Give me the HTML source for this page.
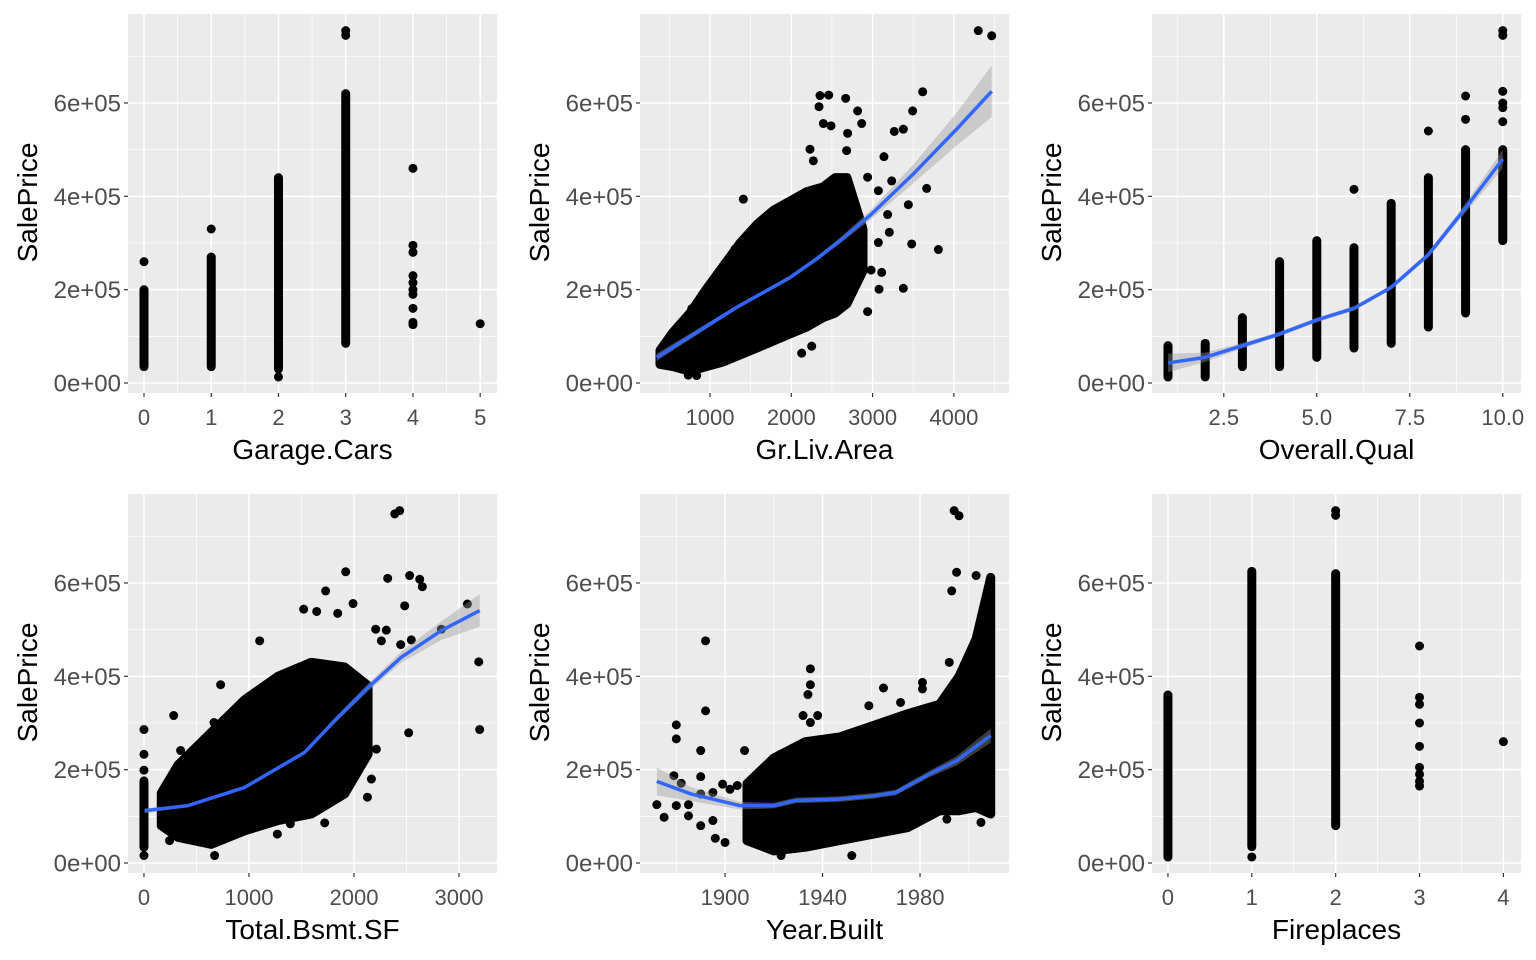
<!DOCTYPE html>
<html><head><meta charset="utf-8"><style>
html,body{margin:0;padding:0;background:#fff;}
svg{display:block;font-family:"Liberation Sans",Arial,sans-serif;}
</style></head><body>
<svg id="chart" width="1536" height="960" viewBox="0 0 1536 960"></svg>
<script>
// ---------- DATA (prices in thousands) ----------
const yTicks = [0, 200, 400, 600];
const yTickLabels = ["0e+00", "2e+05", "4e+05", "6e+05"];

// Panel 1: Garage.Cars
const garageCats = [0, 1, 2, 3];
const garageLo = [35, 35, 30, 85];
const garageHi = [200, 270, 440, 620];
const garageExtraX = [0, 1, 2, 3, 3, 4, 4, 4, 4, 4, 4, 4, 4, 4, 4, 5];
const garageExtraY = [260, 330, 13, 745, 755, 125, 130, 160, 190, 200, 215, 230, 280, 295, 460, 127];

// Panel 2: Gr.Liv.Area
const glaCoreX = [385, 550, 754, 950, 1160, 1370, 1578, 1780, 1984, 2190, 2390, 2540, 2685, 2882];
const glaCoreLo = [40, 35, 25, 35, 45, 60, 75, 90, 105, 120, 140, 150, 170, 240];
const glaCoreHi = [70, 110, 150, 200, 250, 300, 340, 370, 390, 410, 420, 440, 440, 330];
const glaOutX = [1410,1020,1308,775,4300,4465,3616,3493,3267,3378,3140,3665,3440,3185,3206,3481,3809,3071,2981,3112,3079,3378,2939,2353,2460,2341,2669,2816,2866,2394,2488,2693,2230,2271,2681,2128,2251,836,733,3235,3071,2939];
const glaOutY = [394,205,287,159,755,744,624,583,539,544,485,417,382,361,323,298,286,301,242,237,201,203,153,616,617,592,610,583,556,556,551,535,501,476,498,64,79,16,17,433,412,441];
const glaFitX = [344, 1328, 1984, 2312, 2599, 2968, 3501, 4034, 4465];
const glaFitY = [55, 162, 226, 266, 305, 359, 448, 544, 625];
const glaFitSe = [8, 4, 4, 5, 6, 10, 20, 35, 55];

// Panel 3: Overall.Qual
const qualCats = [1, 2, 3, 4, 5, 6, 7, 8, 9, 10];
const qualLo = [13, 13, 35, 35, 55, 75, 85, 120, 150, 305];
const qualHi = [80, 85, 140, 260, 305, 290, 385, 440, 500, 500];
const qualExtraX = [6, 8, 9, 9, 10, 10, 10, 10, 10, 10];
const qualExtraY = [415, 540, 565, 615, 560, 590, 625, 745, 755, 600];
const qualFitX = [1, 2, 3, 4, 5, 6, 7, 8, 9, 10];
const qualFitY = [43, 55, 80, 105, 135, 160, 205, 275, 375, 480];
const qualFitSe = [20, 10, 6, 5, 5, 5, 5, 6, 10, 20];

// Panel 4: Total.Bsmt.SF
const bsmtStripLo = [34];
const bsmtStripHi = [176];
const bsmtCoreX = [165, 324, 641, 959, 1276, 1594, 1911, 2134];
const bsmtCoreLo = [80, 55, 40, 69, 91, 105, 148, 233];
const bsmtCoreHi = [150, 210, 280, 350, 400, 430, 420, 380];
const bsmtOutX = [0,0,0,0,2388,2435,1921,1730,1521,1645,1845,1991,2321,2530,2626,2651,2483,1102,730,283,349,667,2207,2308,2546,3080,3188,3197,2521,2832,2445,2261,2213,2166,2128,1721,1394,1270,673,244];
const bsmtOutY = [16,286,233,199,748,755,624,583,544,539,535,556,610,616,608,592,551,476,382,316,241,301,501,499,478,555,431,286,279,501,468,476,244,180,141,86,84,62,16,48];
const bsmtFitX = [6, 419, 959, 1530, 1816, 2134, 2451, 2832, 3197];
const bsmtFitY = [112, 123, 162, 237, 305, 376, 441, 498, 541];
const bsmtFitSe = [5, 3, 3, 4, 6, 8, 12, 20, 35];

// Panel 5: Year.Built
const yearCoreX = [1909, 1920, 1933, 1947, 1961, 1975, 1988, 1996, 2003, 2009];
const yearCoreLo = [48, 26, 34, 48, 62, 76, 112, 112, 119, 105];
const yearCoreHi = [170, 225, 260, 270, 295, 320, 340, 400, 480, 612];
const yearOutX = [1872,1875,1880,1880,1879,1882,1880,1885,1885,1890,1890,1890,1890,1892,1892,1895,1895,1896,1900,1899,1902,1905,1908,1935,1935,1934,1932,1935,1938,1923,1952,1965,1959,1972,1981,1981,1992,1995,1994,1996,1993,2003,2009,2005,1991];
const yearOutY = [125,98,296,266,187,171,123,125,101,241,185,148,80,476,326,151,91,53,44,169,158,166,241,416,382,361,316,301,316,16,16,375,337,344,387,373,430,623,755,744,583,616,612,87,94];
const yearFitX = [1872, 1886, 1906, 1920, 1929, 1947, 1961, 1970, 1984, 1995, 2009];
const yearFitY = [175, 148, 123, 123, 134, 137, 144, 151, 191, 219, 273];
const yearFitSe = [30, 15, 8, 6, 6, 6, 6, 6, 7, 10, 15];

// Panel 6: Fireplaces
const fireCats = [0, 1, 2];
const fireLo = [13, 35, 80];
const fireHi = [360, 625, 620];
const fireExtraX = [1, 2, 2, 3, 3, 3, 3, 3, 3, 3, 3, 3, 4];
const fireExtraY = [13, 745, 755, 165, 175, 190, 205, 250, 300, 340, 355, 465, 260];

// ---------- RENDER ----------
const NS = "http://www.w3.org/2000/svg";
const svg = document.getElementById("chart");
function mk(tag, attrs, parent) {
  const e = document.createElementNS(NS, tag);
  for (const k in attrs) e.setAttribute(k, attrs[k]);
  (parent || svg).appendChild(e);
  return e;
}
const W = 369, H = 379;
const Y0 = -21.4, Y1 = 790.7;

function panel(cfg) {
  const g = mk("g", {});
  
  
  const L = cfg.left, T = cfg.top;
  const sx = v => L + (v - cfg.x0) / (cfg.x1 - cfg.x0) * W;
  const sy = v => T + (Y1 - v) / (Y1 - Y0) * H;
  const bg = mk("rect", {x: L, y: T, width: W, height: H, fill: "#ebebeb"}, g);
  
  
  [100, 300, 500, 700].forEach(v => mk("line", {x1: L, x2: L + W, y1: sy(v), y2: sy(v), stroke: "#fff", "stroke-width": 0.7}, g));
  cfg.xMinor.forEach(v => mk("line", {x1: sx(v), x2: sx(v), y1: T, y2: T + H, stroke: "#fff", "stroke-width": 0.7}, g));
  yTicks.forEach((v, i) => {
    mk("line", {x1: L, x2: L + W, y1: sy(v), y2: sy(v), stroke: "#fff", "stroke-width": 1.5}, g);
    mk("line", {x1: L - 4, x2: L, y1: sy(v), y2: sy(v), stroke: "#333", "stroke-width": 1.2}, g);
    const t = mk("text", {x: L - 7, y: sy(v) + 8.5, "text-anchor": "end", "font-size": 24, fill: "#4d4d4d"}, g);
    t.textContent = yTickLabels[i];
    
    
  });
  cfg.xMajor.forEach((v, i) => {
    mk("line", {x1: sx(v), x2: sx(v), y1: T, y2: T + H, stroke: "#fff", "stroke-width": 1.5}, g);
    mk("line", {x1: sx(v), x2: sx(v), y1: T + H, y2: T + H + 4, stroke: "#333", "stroke-width": 1.2}, g);
    const t = mk("text", {x: sx(v), y: T + H + 32, "text-anchor": "middle", "font-size": 22, fill: "#4d4d4d"}, g);
    t.textContent = cfg.xLabels[i];
    
    
  });
  const xt = mk("text", {x: L + W / 2, y: T + H + 66, "text-anchor": "middle", "font-size": 28, fill: "#000"}, g);
  xt.textContent = cfg.xTitle;
  
  
  const yt = mk("text", {x: 0, y: 0, "text-anchor": "middle", "font-size": 28, fill: "#000", transform: `translate(${L - 91},${T + H / 2 - 1}) rotate(-90)`}, g);
  yt.textContent = "SalePrice";
  
  

  const marks = mk("g", {}, g);
  
  
  if (cfg.stripX) cfg.stripX.forEach((c, i) => {
    const s = mk("line", {x1: sx(c), x2: sx(c), y1: sy(cfg.stripLo[i]), y2: sy(cfg.stripHi[i]), stroke: "#000", "stroke-width": 9, "stroke-linecap": "round"}, marks);
    
    
  });
  if (cfg.coreX) {
    let d = "";
    cfg.coreX.forEach((x, i) => { d += (i ? "L" : "M") + sx(x) + "," + sy(cfg.coreLo[i]); });
    for (let i = cfg.coreX.length - 1; i >= 0; i--) d += "L" + sx(cfg.coreX[i]) + "," + sy(cfg.coreHi[i]);
    const p = mk("path", {d: d + "Z", fill: "#000", stroke: "#000", "stroke-width": 9, "stroke-linejoin": "round"}, marks);
    
    
  }
  if (cfg.ptX) cfg.ptX.forEach((x, i) => {
    const c = mk("circle", {cx: sx(x), cy: sy(cfg.ptY[i]), r: 4.5, fill: "#000"}, marks);
    
    
  });
  if (cfg.fitX) {
    let d = "";
    cfg.fitX.forEach((x, i) => { d += (i ? "L" : "M") + sx(x) + "," + sy(cfg.fitY[i] + cfg.fitSe[i]); });
    for (let i = cfg.fitX.length - 1; i >= 0; i--) d += "L" + sx(cfg.fitX[i]) + "," + sy(cfg.fitY[i] - cfg.fitSe[i]);
    const band = mk("path", {d: d + "Z", fill: "#999", "fill-opacity": 0.4}, g);
    
    
    const pts = cfg.fitX.map((x, i) => sx(x) + "," + sy(cfg.fitY[i])).join(" ");
    const ln = mk("polyline", {points: pts, fill: "none", stroke: "#3366FF", "stroke-width": 3.5, "stroke-linejoin": "round"}, g);
    
    
  }
}

panel({name: "panel-garage-cars", left: 128, top: 14, x0: -0.238, x1: 5.25,
  xMajor: [0,1,2,3,4,5], xLabels: ["0","1","2","3","4","5"], xMinor: [0.5,1.5,2.5,3.5,4.5],
  xTitle: "Garage.Cars", stripX: garageCats, stripLo: garageLo, stripHi: garageHi,
  ptX: garageExtraX, ptY: garageExtraY});
panel({name: "panel-gr-liv-area", left: 640, top: 14, x0: 139, x1: 4678,
  xMajor: [1000,2000,3000,4000], xLabels: ["1000","2000","3000","4000"], xMinor: [500,1500,2500,3500,4500],
  xTitle: "Gr.Liv.Area", coreX: glaCoreX, coreLo: glaCoreLo, coreHi: glaCoreHi,
  ptX: glaOutX, ptY: glaOutY, fitX: glaFitX, fitY: glaFitY, fitSe: glaFitSe});
panel({name: "panel-overall-qual", left: 1152, top: 14, x0: 0.57, x1: 10.49,
  xMajor: [2.5,5,7.5,10], xLabels: ["2.5","5.0","7.5","10.0"], xMinor: [1.25,3.75,6.25,8.75],
  xTitle: "Overall.Qual", stripX: qualCats, stripLo: qualLo, stripHi: qualHi,
  ptX: qualExtraX, ptY: qualExtraY, fitX: qualFitX, fitY: qualFitY, fitSe: qualFitSe});
panel({name: "panel-total-bsmt-sf", left: 128, top: 494, x0: -152, x1: 3362,
  xMajor: [0,1000,2000,3000], xLabels: ["0","1000","2000","3000"], xMinor: [500,1500,2500],
  xTitle: "Total.Bsmt.SF", stripX: [0], stripLo: bsmtStripLo, stripHi: bsmtStripHi,
  coreX: bsmtCoreX, coreLo: bsmtCoreLo, coreHi: bsmtCoreHi,
  ptX: bsmtOutX, ptY: bsmtOutY, fitX: bsmtFitX, fitY: bsmtFitY, fitSe: bsmtFitSe});
panel({name: "panel-year-built", left: 640, top: 494, x0: 1865.1, x1: 2016.5,
  xMajor: [1900,1940,1980], xLabels: ["1900","1940","1980"], xMinor: [1880,1920,1960,2000],
  xTitle: "Year.Built", coreX: yearCoreX, coreLo: yearCoreLo, coreHi: yearCoreHi,
  ptX: yearOutX, ptY: yearOutY, fitX: yearFitX, fitY: yearFitY, fitSe: yearFitSe});
panel({name: "panel-fireplaces", left: 1152, top: 494, x0: -0.19, x1: 4.21,
  xMajor: [0,1,2,3,4], xLabels: ["0","1","2","3","4"], xMinor: [0.5,1.5,2.5,3.5],
  xTitle: "Fireplaces", stripX: fireCats, stripLo: fireLo, stripHi: fireHi,
  ptX: fireExtraX, ptY: fireExtraY});
</script>
</body></html>
